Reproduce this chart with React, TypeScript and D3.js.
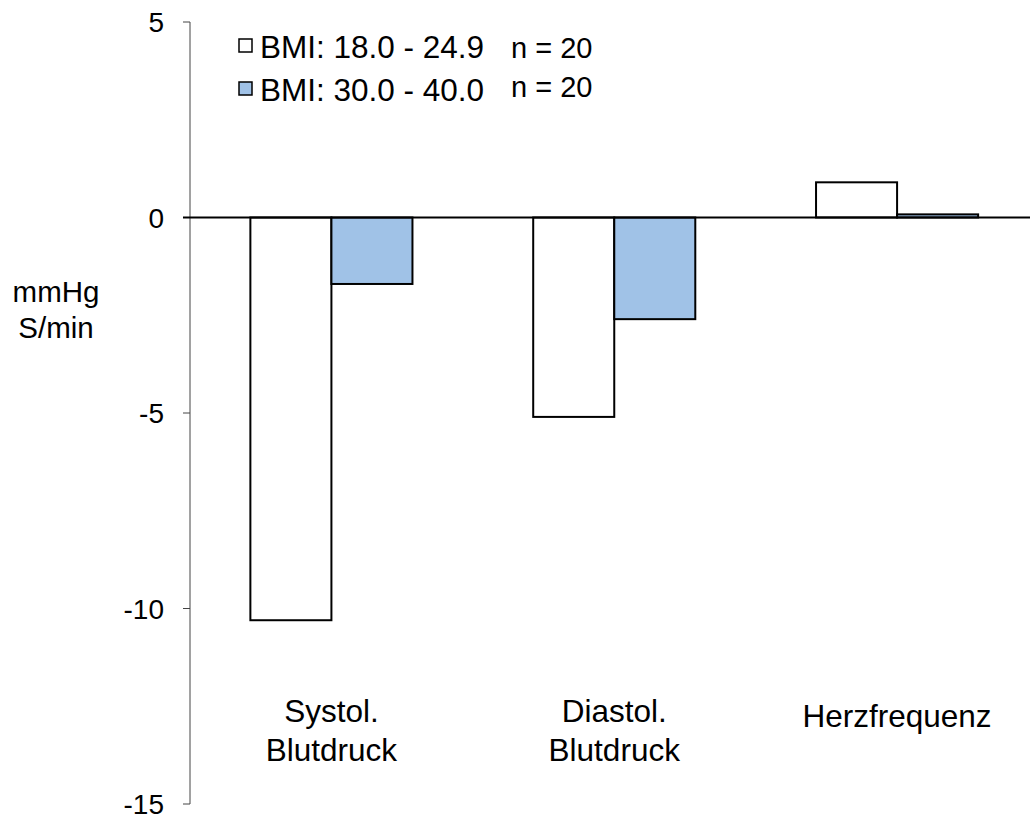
import React from "react";
import * as d3 from "d3";

const categories = ["Systol.\nBlutdruck", "Diastol.\nBlutdruck", "Herzfrequenz"];
const seriesNames = ["BMI: 18.0 - 24.9", "BMI: 30.0 - 40.0"];
const seriesN = ["n = 20", "n = 20"];
const normalBmi = [-10.3, -5.1, 0.9];
const obeseBmi = [-1.7, -2.6, 0.08];
const yTicks = [5, 0, -5, -10, -15];
const yLabel = ["mmHg", "S/min"];

const colors = ["#ffffff", "#a0c2e7"];
const font = "'Liberation Sans', Arial, Helvetica, sans-serif";

const width = 1030;
const height = 818;

const App: React.FC = () => {
  const values = [normalBmi, obeseBmi];

  const y = d3.scaleLinear().domain([-15, 5]).range([804, 22]);
  const x0 = d3.scaleBand<string>().domain(categories).range([190, 1038.5]).padding(0);
  const x1 = d3
    .scaleBand<string>()
    .domain(seriesNames)
    .range([0, x0.bandwidth()])
    .paddingInner(0)
    .paddingOuter(0.745);

  const axisX = 190;
  const zeroY = y(0);

  return (
    <svg
      width={width}
      height={height}
      style={{ position: "absolute", left: 0, top: 0, background: "#fff" }}
      fontFamily={font}
    >
      {/* y axis */}
      <line x1={axisX} x2={axisX} y1={y(5)} y2={y(-15)} stroke="#444" strokeWidth={1} />
      {yTicks.map((t) => (
        <g key={t}>
          <line x1={axisX - 7} x2={axisX} y1={y(t)} y2={y(t)} stroke="#444" strokeWidth={1} />
          <text x={164} y={y(t)} dy="0.36em" textAnchor="end" fontSize={28} fill="#000">
            {t}
          </text>
        </g>
      ))}
      <text x={56} y={292} textAnchor="middle" fontSize={29.5} fill="#000">
        <tspan x={56} dy="0.35em">{yLabel[0]}</tspan>
        <tspan x={56} dy="1.2em">{yLabel[1]}</tspan>
      </text>

      {/* bars */}
      {categories.map((c, i) => (
        <g key={c} transform={`translate(${x0(c)},0)`}>
          {seriesNames.map((s, j) => {
            const v = values[j][i];
            return (
              <rect
                key={s}
                x={x1(s)}
                y={y(Math.max(0, v))}
                width={x1.bandwidth()}
                height={Math.abs(y(v) - zeroY)}
                fill={colors[j]}
                stroke="#000"
                strokeWidth={2}
              />
            );
          })}
        </g>
      ))}

      {/* zero line */}
      <line x1={axisX - 7} x2={width} y1={zeroY} y2={zeroY} stroke="#000" strokeWidth={2} />

      {/* category labels */}
      {categories.map((c) => {
        const lines = c.split("\n");
        const cx = (x0(c) ?? 0) + x0.bandwidth() / 2;
        return (
          <text key={c} x={cx} y={lines.length > 1 ? 722 : 727} textAnchor="middle" fontSize={31.5} fill="#000">
            {lines.map((l, k) => (
              <tspan key={k} x={cx} dy={k === 0 ? 0 : 39}>
                {l}
              </tspan>
            ))}
          </text>
        );
      })}

      {/* legend */}
      {seriesNames.map((s, j) => (
        <g key={s} transform={`translate(238,${j * 43})`}>
          <rect x={1} y={39} width={13} height={13} fill={colors[j]} stroke="#000" strokeWidth={1.5} />
          <text x={22} y={58} fontSize={31.5} fill="#000">
            {s}
          </text>
          <text x={273} y={j === 0 ? 58 : 54} fontSize={29} fill="#000">
            {seriesN[j]}
          </text>
        </g>
      ))}
    </svg>
  );
};

export default App;
